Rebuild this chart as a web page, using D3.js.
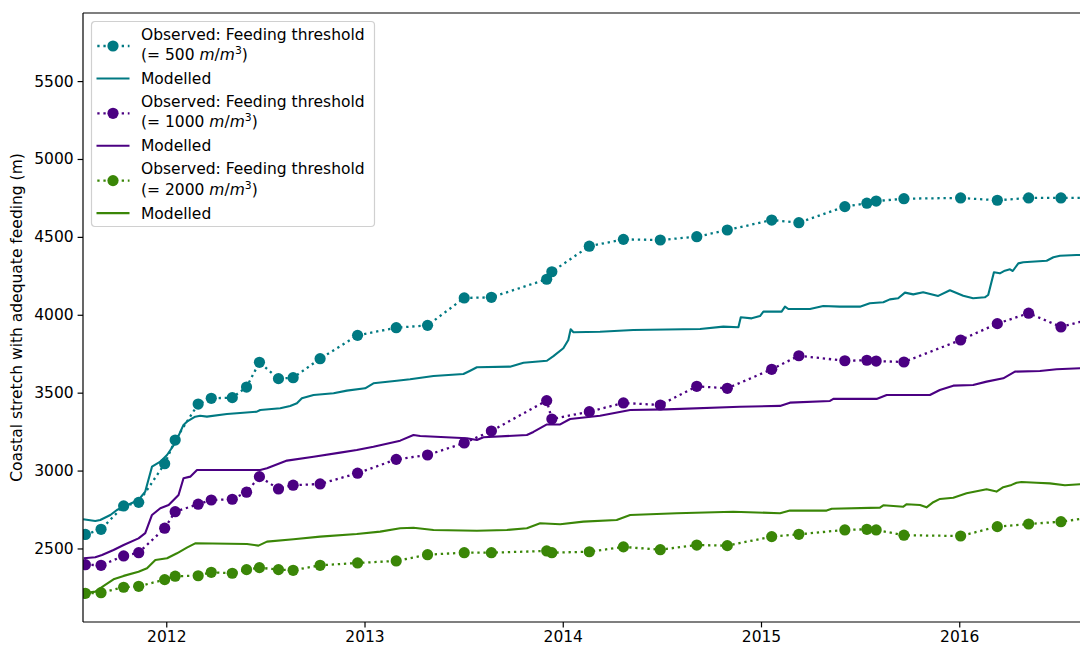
<!DOCTYPE html>
<html>
<head>
<meta charset="utf-8">
<script src="https://cdn.jsdelivr.net/npm/d3@7/dist/d3.min.js"></script>
<style>
  html, body { margin: 0; padding: 0; background: #fff; }
  svg { display: block; font-family: "DejaVu Sans", sans-serif; }
</style>
</head>
<body>
<svg id="chart" width="1080" height="646"></svg>
<script>
// Observation dates (decimal years) shared by the three observed series
const obsDates = [2011.592, 2011.671, 2011.785, 2011.861, 2011.992, 2012.045, 2012.161, 2012.227,
  2012.333, 2012.405, 2012.470, 2012.566, 2012.640, 2012.776, 2012.965, 2013.160, 2013.318,
  2013.503, 2013.640, 2013.919, 2013.945, 2014.134, 2014.306, 2014.492, 2014.676, 2014.830,
  2015.054, 2015.191, 2015.423, 2015.534, 2015.581, 2015.721, 2016.007, 2016.192, 2016.350,
  2016.513, 2016.684];

// Observed coastal stretch (m) per feeding threshold
const obs500 = [2590, 2623, 2773, 2796, 3044, 3196, 3427, 3464, 3468, 3536, 3695, 3590, 3596,
  3718, 3868, 3917, 3932, 4108, 4112, 4228, 4276, 4440, 4484, 4480, 4501, 4544, 4608, 4591,
  4694, 4716, 4730, 4745, 4750, 4735, 4750, 4750, 4750];
const obs1000 = [2396, 2392, 2452, 2473, 2630, 2736, 2784, 2811, 2816, 2861, 2961, 2882, 2906,
  2914, 2983, 3072, 3100, 3177, 3254, 3449, 3331, 3378, 3434, 3421, 3541, 3528, 3650, 3737,
  3705, 3708, 3703, 3697, 3838, 3943, 4010, 3922, 3979];
const obs2000 = [2212, 2216, 2251, 2257, 2300, 2322, 2325, 2347, 2341, 2364, 2377, 2364, 2360,
  2392, 2407, 2420, 2460, 2473, 2473, 2484, 2473, 2479, 2510, 2492, 2522, 2518, 2576, 2591,
  2619, 2623, 2619, 2585, 2580, 2640, 2657, 2672, 2702];

// Modelled series: [decimal year, metres]
const model500 = [[2011.581, 2687], [2011.642, 2676], [2011.667, 2683], [2011.718, 2715],
  [2011.751, 2747], [2011.785, 2768], [2011.860, 2811], [2011.894, 2865], [2011.928, 3025],
  [2011.970, 3057], [2012.004, 3100], [2012.045, 3177], [2012.071, 3248], [2012.087, 3293],
  [2012.104, 3314], [2012.146, 3346], [2012.171, 3352], [2012.205, 3346], [2012.306, 3363],
  [2012.356, 3368], [2012.457, 3378], [2012.474, 3389], [2012.575, 3400], [2012.625, 3415],
  [2012.659, 3432], [2012.684, 3464], [2012.743, 3485], [2012.844, 3496], [2012.911, 3513],
  [2013.003, 3528], [2013.045, 3560], [2013.163, 3577], [2013.230, 3586], [2013.348, 3607],
  [2013.499, 3620], [2013.533, 3641], [2013.567, 3663], [2013.734, 3667], [2013.802, 3692],
  [2013.920, 3705], [2013.953, 3735], [2014.003, 3785], [2014.028, 3838], [2014.040, 3907],
  [2014.054, 3888], [2014.188, 3891], [2014.356, 3902], [2014.693, 3909], [2014.810, 3924],
  [2014.886, 3920], [2014.898, 3984], [2014.953, 3977], [2014.995, 3992], [2015.012, 4020],
  [2015.104, 4020], [2015.121, 4052], [2015.138, 4037], [2015.247, 4037], [2015.314, 4056],
  [2015.398, 4052], [2015.499, 4052], [2015.549, 4074], [2015.617, 4080], [2015.650, 4099],
  [2015.692, 4106], [2015.726, 4142], [2015.768, 4131], [2015.818, 4144], [2015.894, 4121],
  [2015.953, 4157], [2016.020, 4122], [2016.070, 4106], [2016.129, 4112], [2016.146, 4127],
  [2016.175, 4273], [2016.205, 4266], [2016.230, 4283], [2016.256, 4292], [2016.270, 4281],
  [2016.298, 4330], [2016.323, 4337], [2016.441, 4347], [2016.475, 4369], [2016.508, 4379],
  [2016.592, 4384], [2016.684, 4384]];
const model1000 = [[2011.583, 2437], [2011.642, 2444], [2011.676, 2458], [2011.734, 2490],
  [2011.785, 2522], [2011.860, 2565], [2011.894, 2598], [2011.928, 2715], [2011.970, 2758],
  [2012.012, 2779], [2012.062, 2843], [2012.087, 2951], [2012.121, 2961], [2012.155, 3004],
  [2012.474, 3004], [2012.508, 3015], [2012.609, 3064], [2012.743, 3089], [2012.877, 3115],
  [2012.961, 3132], [2013.045, 3153], [2013.180, 3192], [2013.247, 3228], [2013.281, 3222],
  [2013.516, 3207], [2013.567, 3196], [2013.600, 3214], [2013.819, 3228], [2013.852, 3248],
  [2013.920, 3296], [2013.987, 3296], [2014.037, 3331], [2014.188, 3352], [2014.340, 3389],
  [2014.524, 3393], [2014.894, 3410], [2015.096, 3415], [2015.146, 3436], [2015.348, 3447],
  [2015.365, 3460], [2015.583, 3460], [2015.634, 3485], [2015.852, 3485], [2015.902, 3517],
  [2015.970, 3545], [2016.070, 3549], [2016.138, 3571], [2016.222, 3592], [2016.281, 3635],
  [2016.407, 3639], [2016.491, 3650], [2016.609, 3657], [2016.684, 3657]];
const model2000 = [[2011.583, 2212], [2011.642, 2223], [2011.692, 2266], [2011.734, 2302],
  [2011.785, 2324], [2011.860, 2351], [2011.903, 2373], [2011.945, 2426], [2012.004, 2437],
  [2012.054, 2469], [2012.104, 2505], [2012.146, 2533], [2012.407, 2529], [2012.465, 2518],
  [2012.508, 2544], [2012.642, 2559], [2012.776, 2576], [2012.961, 2593], [2013.079, 2608],
  [2013.180, 2630], [2013.247, 2633], [2013.348, 2619], [2013.567, 2614], [2013.718, 2619],
  [2013.819, 2630], [2013.886, 2662], [2013.987, 2655], [2014.104, 2672], [2014.272, 2683],
  [2014.340, 2715], [2014.575, 2726], [2014.860, 2736], [2015.096, 2726], [2015.146, 2743],
  [2015.331, 2743], [2015.357, 2755], [2015.600, 2762], [2015.617, 2777], [2015.718, 2768],
  [2015.735, 2784], [2015.802, 2779], [2015.835, 2764], [2015.869, 2797], [2015.903, 2818],
  [2015.970, 2826], [2016.037, 2854], [2016.138, 2880], [2016.188, 2865], [2016.222, 2893],
  [2016.264, 2908], [2016.289, 2922], [2016.314, 2927], [2016.390, 2922], [2016.457, 2918],
  [2016.533, 2906], [2016.609, 2912], [2016.684, 2912]];

const thresholds = ["500", "1000", "2000"];
const colors = ["#007982", "#4b0082", "#3a8607"];
const yTicks = [2500, 3000, 3500, 4000, 4500, 5000, 5500];
const xTicks = [2012, 2013, 2014, 2015, 2016];
const yLabel = "Coastal stretch with adequate feeding (m)";

const svg = d3.select("#chart");
const plotLeft = 83, plotTop = 13, plotBottom = 622, plotRight = 1100;
const fontSize = 15.5;

const x = d3.scaleLinear().domain([2011.58, 2016.71]).range([plotLeft, plotRight]);
const y = d3.scaleLinear().domain([2028, 5937]).range([plotBottom, plotTop]);

svg.append("defs").append("clipPath").attr("id", "plotclip")
  .append("rect").attr("x", plotLeft).attr("y", plotTop)
  .attr("width", plotRight - plotLeft).attr("height", plotBottom - plotTop);

const plot = svg.append("g").attr("clip-path", "url(#plotclip)");

const obsLine = d3.line().x((d, i) => x(obsDates[i])).y(d => y(d));
const modLine = d3.line().x(d => x(d[0])).y(d => y(d[1]));

const observed = [obs500, obs1000, obs2000];
const modelled = [model500, model1000, model2000];

observed.forEach((vals, k) => {
  const c = colors[k];
  plot.append("path").datum(vals)
    .attr("d", obsLine)
    .attr("fill", "none").attr("stroke", c)
    .attr("stroke-width", 2.3).attr("stroke-dasharray", "2.3,3.8");
  plot.append("g").selectAll("circle").data(vals).join("circle")
    .attr("cx", (d, i) => x(obsDates[i])).attr("cy", d => y(d))
    .attr("r", 5.6).attr("fill", c);
  plot.append("path").datum(modelled[k])
    .attr("d", modLine)
    .attr("fill", "none").attr("stroke", c)
    .attr("stroke-width", 2.1).attr("stroke-linejoin", "round");
});

// Axes
const yAxis = svg.append("g").attr("transform", `translate(${plotLeft},0)`)
  .call(d3.axisLeft(y).tickValues(yTicks).tickFormat(d3.format("d")).tickSize(5.4).tickPadding(4));
const xAxis = svg.append("g").attr("transform", `translate(0,${plotBottom})`)
  .call(d3.axisBottom(x).tickValues(xTicks).tickFormat(d3.format("d")).tickSize(5.4).tickPadding(4));
[yAxis, xAxis].forEach(a => {
  a.select(".domain").remove();
  a.selectAll("line").attr("stroke", "#000").attr("stroke-width", 1.2);
  a.selectAll("text").attr("font-size", fontSize).attr("fill", "#000")
    .attr("font-family", "DejaVu Sans, sans-serif");
});

// Spines
const spine = svg.append("g").attr("stroke", "#000").attr("stroke-width", 1.2).attr("fill", "none");
spine.append("line").attr("x1", plotLeft).attr("x2", plotLeft).attr("y1", plotTop).attr("y2", plotBottom);
spine.append("line").attr("x1", plotLeft).attr("x2", plotRight).attr("y1", plotBottom).attr("y2", plotBottom);
spine.append("line").attr("x1", plotLeft).attr("x2", plotRight).attr("y1", plotTop).attr("y2", plotTop);
spine.append("line").attr("x1", plotRight).attr("x2", plotRight).attr("y1", plotTop).attr("y2", plotBottom);

svg.append("text")
  .attr("transform", `translate(22,${(plotTop + plotBottom) / 2}) rotate(-90)`)
  .attr("text-anchor", "middle").attr("font-size", fontSize).attr("fill", "#000")
  .text(yLabel);

// Legend
const lg = svg.append("g").attr("transform", "translate(91.5,21.5)");
lg.append("rect").attr("width", 283).attr("height", 205).attr("rx", 3.5)
  .attr("fill", "#fff").attr("fill-opacity", 0.8)
  .attr("stroke", "#d0d0d0").attr("stroke-width", 1.2);

thresholds.forEach((t, k) => {
  const c = colors[k];
  const g = lg.append("g").attr("transform", `translate(0,${k * 67.3})`);
  g.append("line").attr("x1", 5).attr("x2", 38).attr("y1", 24.5).attr("y2", 24.5)
    .attr("stroke", c).attr("stroke-width", 2.3).attr("stroke-dasharray", "2.3,3.8")
    .attr("stroke-dashoffset", -0.8);
  g.append("circle").attr("cx", 21.5).attr("cy", 24.5).attr("r", 5.6).attr("fill", c);
  g.append("text").attr("x", 49.5).attr("y", 18).attr("font-size", fontSize).attr("fill", "#000")
    .text("Observed: Feeding threshold");
  const t2 = g.append("text").attr("x", 49.5).attr("y", 38.5).attr("font-size", fontSize).attr("fill", "#000");
  t2.append("tspan").text(`(= ${t} `);
  t2.append("tspan").attr("font-style", "italic").text("m");
  t2.append("tspan").text("/");
  t2.append("tspan").attr("font-style", "italic").text("m");
  t2.append("tspan").attr("font-size", 10.8).attr("dy", -6).text("3");
  t2.append("tspan").attr("dy", 6).text(")");
  g.append("line").attr("x1", 5).attr("x2", 38).attr("y1", 57).attr("y2", 57)
    .attr("stroke", c).attr("stroke-width", 2.1);
  g.append("text").attr("x", 49.5).attr("y", 62.5).attr("font-size", fontSize).attr("fill", "#000")
    .text("Modelled");
});
</script>
</body>
</html>
